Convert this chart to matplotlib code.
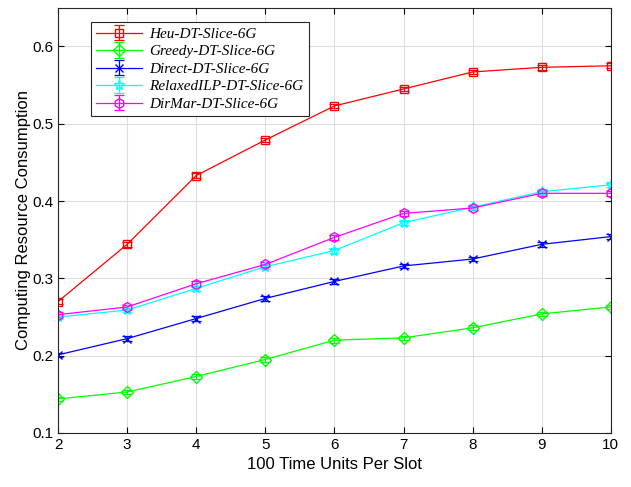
import numpy as np
import matplotlib.pyplot as plt

x = [2, 3, 4, 5, 6, 7, 8, 9, 10]
heu = [0.270, 0.344, 0.433, 0.479, 0.523, 0.545, 0.567, 0.573, 0.575]
greedy = [0.144, 0.153, 0.173, 0.195, 0.220, 0.223, 0.236, 0.254, 0.263]
direct = [0.201, 0.222, 0.248, 0.274, 0.296, 0.316, 0.325, 0.344, 0.354]
relaxed = [0.250, 0.259, 0.287, 0.315, 0.336, 0.372, 0.392, 0.412, 0.421]
dirmar = [0.253, 0.263, 0.293, 0.318, 0.353, 0.384, 0.391, 0.410, 0.410]
err = 0.003

names = ['Heu-DT-Slice-6G', 'Greedy-DT-Slice-6G', 'Direct-DT-Slice-6G',
         'RelaxedILP-DT-Slice-6G', 'DirMar-DT-Slice-6G']
series = [heu, greedy, direct, relaxed, dirmar]
colors = ['#ff0000', '#00ff00', '#0000ff', '#00ffff', '#ff00ff']
markers = ['s', 'D', 'x', '*', 'h']
msizes = [6, 6, 6, 8, 7]

plt.rcParams['font.family'] = ['Liberation Sans', 'DejaVu Sans']
fig = plt.figure(figsize=(6.31, 4.87), dpi=100)
ax = fig.add_axes([0.092, 0.111, 0.876, 0.873])

for y, n, c, m, s in zip(series, names, colors, markers, msizes):
    ax.errorbar(x, y, yerr=err, color=c, marker=m, markersize=s,
                markerfacecolor='none', markeredgecolor=c, linewidth=0.9,
                elinewidth=0.9, capsize=3.5, capthick=0.9, label=n)

ax.set_xlim(2, 10)
ax.set_ylim(0.1, 0.65)
ax.set_xticks(range(2, 11))
ax.set_yticks([0.1, 0.2, 0.3, 0.4, 0.5, 0.6])
ax.set_yticklabels(['0.1', '0.2', '0.3', '0.4', '0.5', '0.6'])
ax.grid(True, color='#dddddd', linewidth=0.8)
ax.set_axisbelow(True)
ax.tick_params(direction='in', top=True, right=True, labelsize=11, length=4)
for sp in ax.spines.values():
    sp.set_color('#262626')
    sp.set_linewidth(0.8)
ax.set_xlabel('100 Time Units Per Slot', fontsize=12)
ax.set_ylabel('Computing Resource Consumption', fontsize=12, labelpad=1)

leg = ax.legend(loc='upper left', bbox_to_anchor=(0.045, 0.985),
                prop={'family': 'Liberation Serif', 'style': 'italic', 'size': 11},
                fancybox=False, edgecolor='#262626', framealpha=1,
                handlelength=3.0, borderpad=0.35, labelspacing=0.25,
                handletextpad=0.5)
leg.get_frame().set_linewidth(0.8)

fig.savefig('out.png', dpi=100)
